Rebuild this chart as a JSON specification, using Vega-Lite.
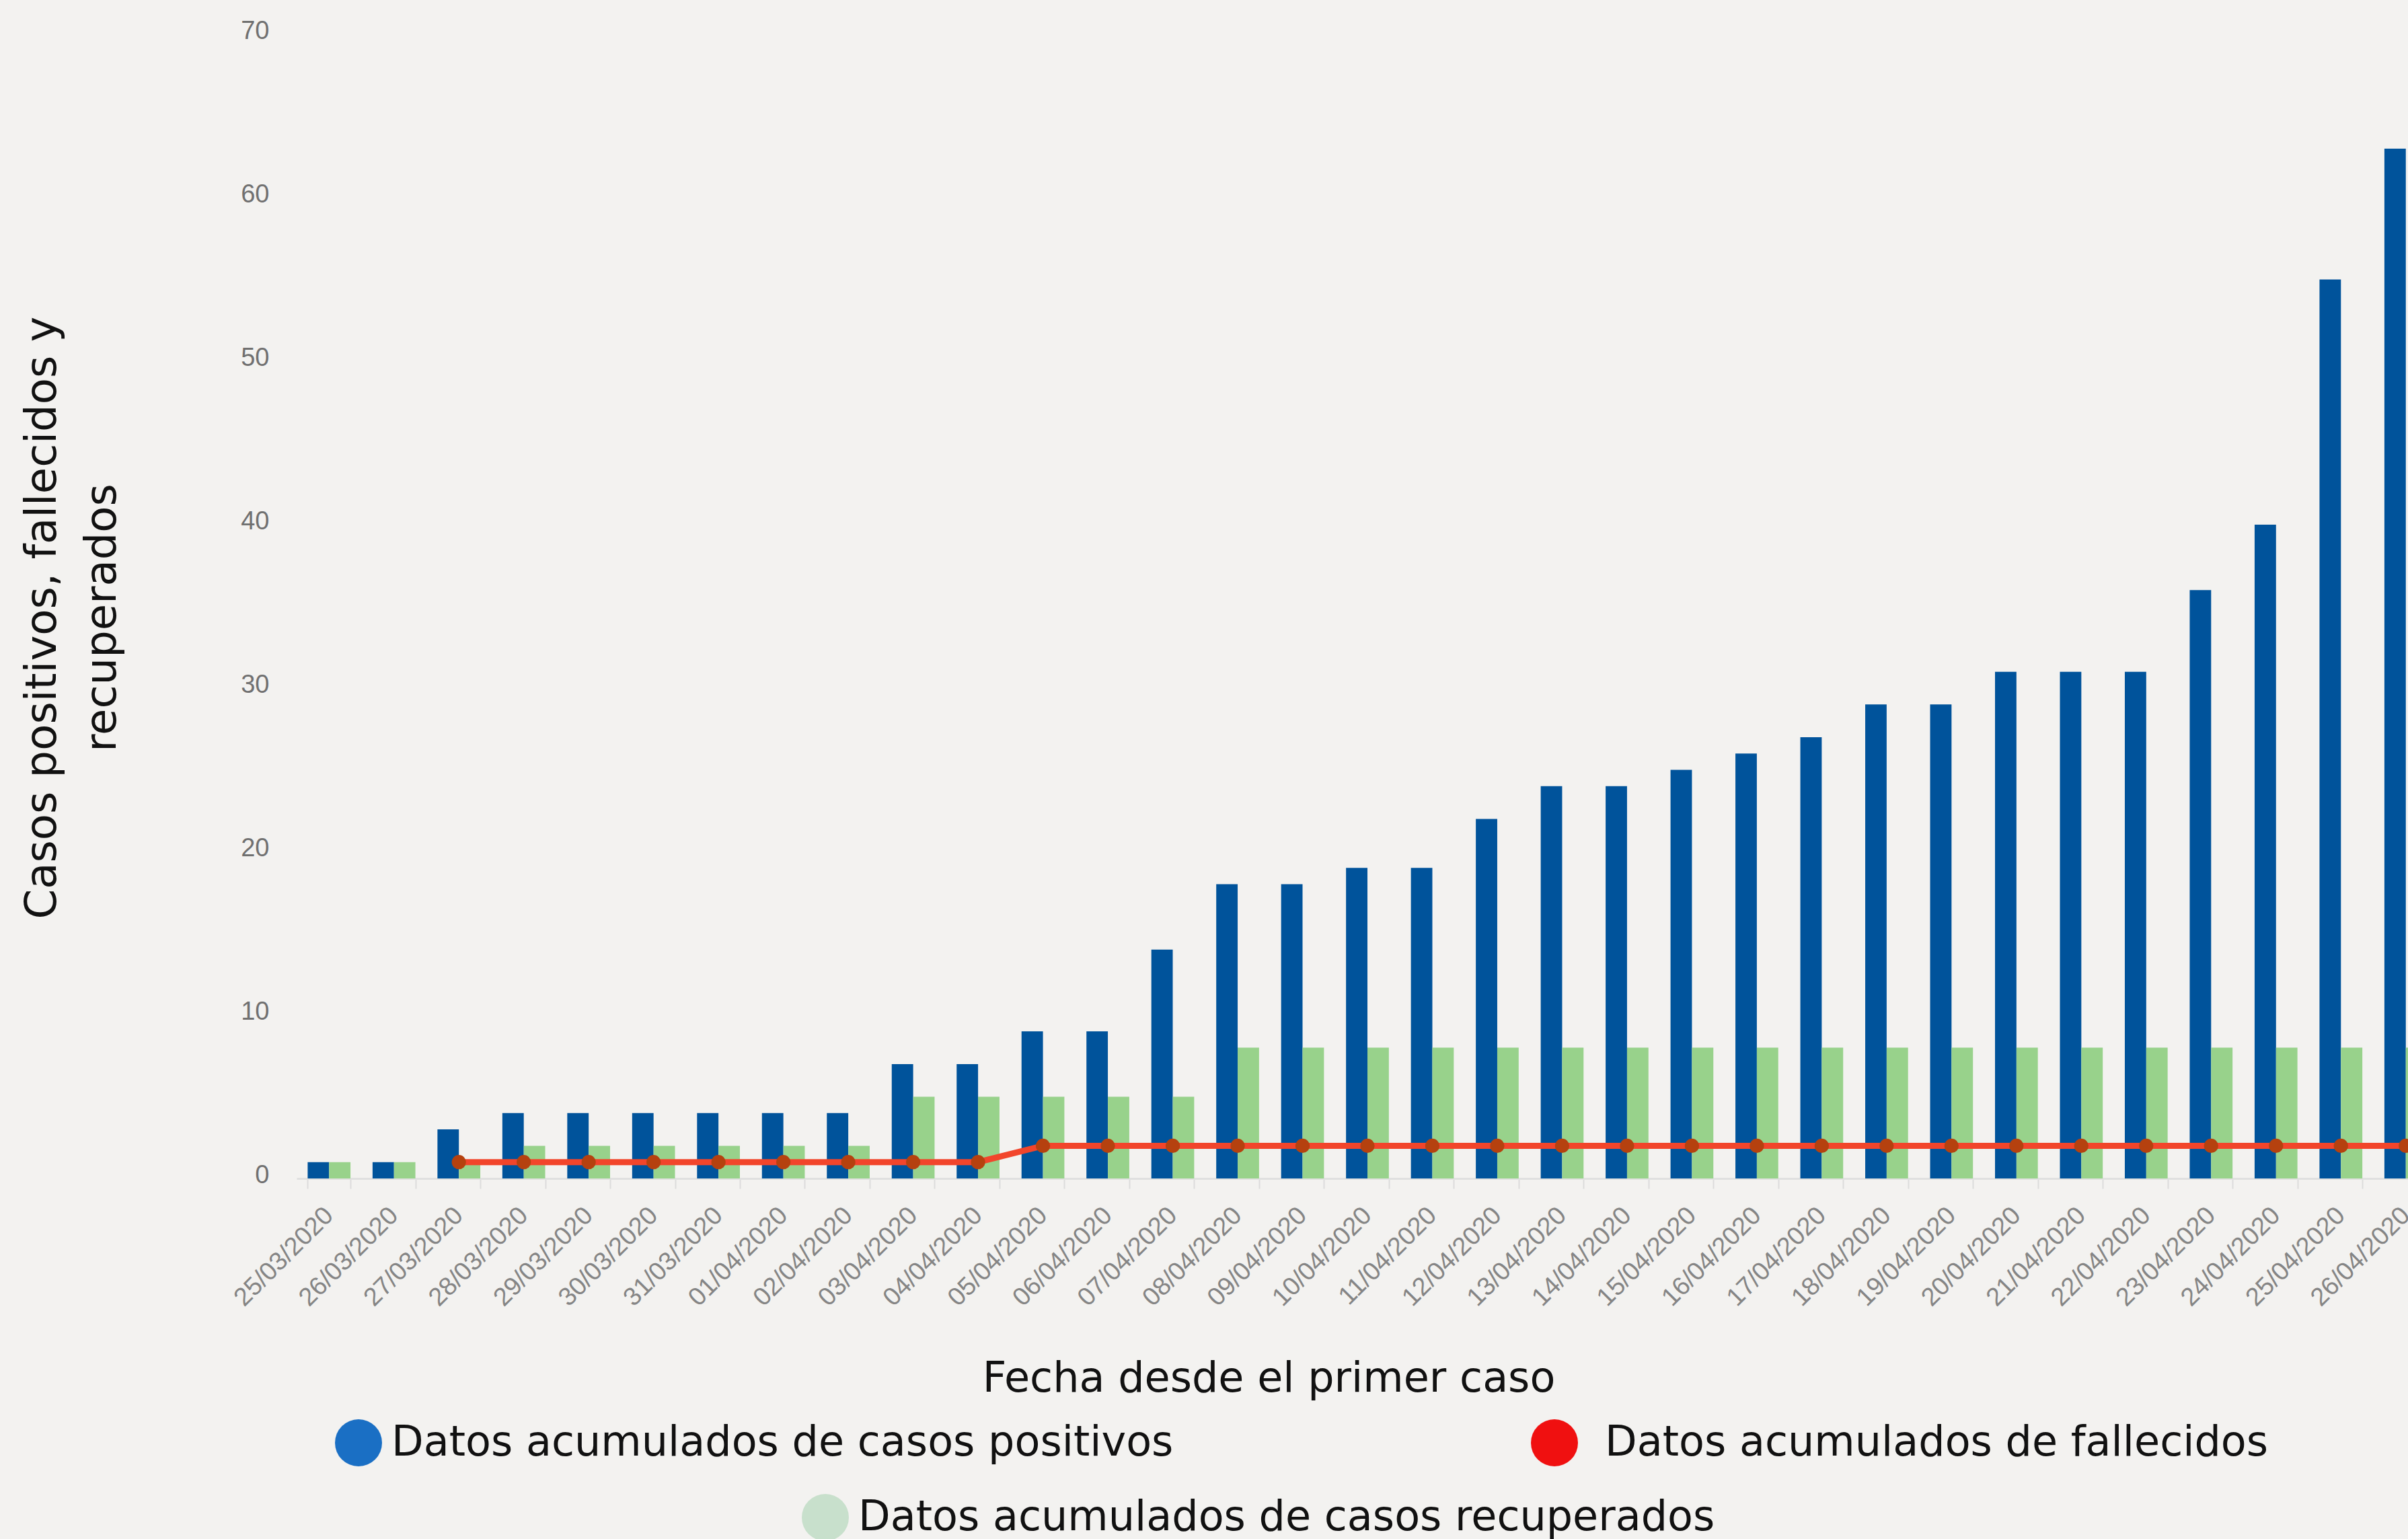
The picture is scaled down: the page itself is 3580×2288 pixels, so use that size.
{
  "$schema": "https://vega.github.io/schema/vega-lite/v6.json",
  "autosize": {"type": "none"},
  "padding": {"left": 441, "top": 51, "right": 0, "bottom": 536},
  "width": 3184,
  "height": 1701,
  "background": "#f3f2f0",
  "config": {"view": {"stroke": null}, "font": "DejaVu Sans"},
  "datasets": {
    "casos": [
      {"fecha": "25/03/2020", "serie": "Datos acumulados de casos positivos", "valor": 1},
      {"fecha": "26/03/2020", "serie": "Datos acumulados de casos positivos", "valor": 1},
      {"fecha": "27/03/2020", "serie": "Datos acumulados de casos positivos", "valor": 3},
      {"fecha": "28/03/2020", "serie": "Datos acumulados de casos positivos", "valor": 4},
      {"fecha": "29/03/2020", "serie": "Datos acumulados de casos positivos", "valor": 4},
      {"fecha": "30/03/2020", "serie": "Datos acumulados de casos positivos", "valor": 4},
      {"fecha": "31/03/2020", "serie": "Datos acumulados de casos positivos", "valor": 4},
      {"fecha": "01/04/2020", "serie": "Datos acumulados de casos positivos", "valor": 4},
      {"fecha": "02/04/2020", "serie": "Datos acumulados de casos positivos", "valor": 4},
      {"fecha": "03/04/2020", "serie": "Datos acumulados de casos positivos", "valor": 7},
      {"fecha": "04/04/2020", "serie": "Datos acumulados de casos positivos", "valor": 7},
      {"fecha": "05/04/2020", "serie": "Datos acumulados de casos positivos", "valor": 9},
      {"fecha": "06/04/2020", "serie": "Datos acumulados de casos positivos", "valor": 9},
      {"fecha": "07/04/2020", "serie": "Datos acumulados de casos positivos", "valor": 14},
      {"fecha": "08/04/2020", "serie": "Datos acumulados de casos positivos", "valor": 18},
      {"fecha": "09/04/2020", "serie": "Datos acumulados de casos positivos", "valor": 18},
      {"fecha": "10/04/2020", "serie": "Datos acumulados de casos positivos", "valor": 19},
      {"fecha": "11/04/2020", "serie": "Datos acumulados de casos positivos", "valor": 19},
      {"fecha": "12/04/2020", "serie": "Datos acumulados de casos positivos", "valor": 22},
      {"fecha": "13/04/2020", "serie": "Datos acumulados de casos positivos", "valor": 24},
      {"fecha": "14/04/2020", "serie": "Datos acumulados de casos positivos", "valor": 24},
      {"fecha": "15/04/2020", "serie": "Datos acumulados de casos positivos", "valor": 25},
      {"fecha": "16/04/2020", "serie": "Datos acumulados de casos positivos", "valor": 26},
      {"fecha": "17/04/2020", "serie": "Datos acumulados de casos positivos", "valor": 27},
      {"fecha": "18/04/2020", "serie": "Datos acumulados de casos positivos", "valor": 29},
      {"fecha": "19/04/2020", "serie": "Datos acumulados de casos positivos", "valor": 29},
      {"fecha": "20/04/2020", "serie": "Datos acumulados de casos positivos", "valor": 31},
      {"fecha": "21/04/2020", "serie": "Datos acumulados de casos positivos", "valor": 31},
      {"fecha": "22/04/2020", "serie": "Datos acumulados de casos positivos", "valor": 31},
      {"fecha": "23/04/2020", "serie": "Datos acumulados de casos positivos", "valor": 36},
      {"fecha": "24/04/2020", "serie": "Datos acumulados de casos positivos", "valor": 40},
      {"fecha": "25/04/2020", "serie": "Datos acumulados de casos positivos", "valor": 55},
      {"fecha": "26/04/2020", "serie": "Datos acumulados de casos positivos", "valor": 63},
      {"fecha": "25/03/2020", "serie": "Datos acumulados de casos recuperados", "valor": 1},
      {"fecha": "26/03/2020", "serie": "Datos acumulados de casos recuperados", "valor": 1},
      {"fecha": "27/03/2020", "serie": "Datos acumulados de casos recuperados", "valor": 1},
      {"fecha": "28/03/2020", "serie": "Datos acumulados de casos recuperados", "valor": 2},
      {"fecha": "29/03/2020", "serie": "Datos acumulados de casos recuperados", "valor": 2},
      {"fecha": "30/03/2020", "serie": "Datos acumulados de casos recuperados", "valor": 2},
      {"fecha": "31/03/2020", "serie": "Datos acumulados de casos recuperados", "valor": 2},
      {"fecha": "01/04/2020", "serie": "Datos acumulados de casos recuperados", "valor": 2},
      {"fecha": "02/04/2020", "serie": "Datos acumulados de casos recuperados", "valor": 2},
      {"fecha": "03/04/2020", "serie": "Datos acumulados de casos recuperados", "valor": 5},
      {"fecha": "04/04/2020", "serie": "Datos acumulados de casos recuperados", "valor": 5},
      {"fecha": "05/04/2020", "serie": "Datos acumulados de casos recuperados", "valor": 5},
      {"fecha": "06/04/2020", "serie": "Datos acumulados de casos recuperados", "valor": 5},
      {"fecha": "07/04/2020", "serie": "Datos acumulados de casos recuperados", "valor": 5},
      {"fecha": "08/04/2020", "serie": "Datos acumulados de casos recuperados", "valor": 8},
      {"fecha": "09/04/2020", "serie": "Datos acumulados de casos recuperados", "valor": 8},
      {"fecha": "10/04/2020", "serie": "Datos acumulados de casos recuperados", "valor": 8},
      {"fecha": "11/04/2020", "serie": "Datos acumulados de casos recuperados", "valor": 8},
      {"fecha": "12/04/2020", "serie": "Datos acumulados de casos recuperados", "valor": 8},
      {"fecha": "13/04/2020", "serie": "Datos acumulados de casos recuperados", "valor": 8},
      {"fecha": "14/04/2020", "serie": "Datos acumulados de casos recuperados", "valor": 8},
      {"fecha": "15/04/2020", "serie": "Datos acumulados de casos recuperados", "valor": 8},
      {"fecha": "16/04/2020", "serie": "Datos acumulados de casos recuperados", "valor": 8},
      {"fecha": "17/04/2020", "serie": "Datos acumulados de casos recuperados", "valor": 8},
      {"fecha": "18/04/2020", "serie": "Datos acumulados de casos recuperados", "valor": 8},
      {"fecha": "19/04/2020", "serie": "Datos acumulados de casos recuperados", "valor": 8},
      {"fecha": "20/04/2020", "serie": "Datos acumulados de casos recuperados", "valor": 8},
      {"fecha": "21/04/2020", "serie": "Datos acumulados de casos recuperados", "valor": 8},
      {"fecha": "22/04/2020", "serie": "Datos acumulados de casos recuperados", "valor": 8},
      {"fecha": "23/04/2020", "serie": "Datos acumulados de casos recuperados", "valor": 8},
      {"fecha": "24/04/2020", "serie": "Datos acumulados de casos recuperados", "valor": 8},
      {"fecha": "25/04/2020", "serie": "Datos acumulados de casos recuperados", "valor": 8},
      {"fecha": "26/04/2020", "serie": "Datos acumulados de casos recuperados", "valor": 8},
      {"fecha": "27/03/2020", "serie": "Datos acumulados  de fallecidos", "valor": 1},
      {"fecha": "28/03/2020", "serie": "Datos acumulados  de fallecidos", "valor": 1},
      {"fecha": "29/03/2020", "serie": "Datos acumulados  de fallecidos", "valor": 1},
      {"fecha": "30/03/2020", "serie": "Datos acumulados  de fallecidos", "valor": 1},
      {"fecha": "31/03/2020", "serie": "Datos acumulados  de fallecidos", "valor": 1},
      {"fecha": "01/04/2020", "serie": "Datos acumulados  de fallecidos", "valor": 1},
      {"fecha": "02/04/2020", "serie": "Datos acumulados  de fallecidos", "valor": 1},
      {"fecha": "03/04/2020", "serie": "Datos acumulados  de fallecidos", "valor": 1},
      {"fecha": "04/04/2020", "serie": "Datos acumulados  de fallecidos", "valor": 1},
      {"fecha": "05/04/2020", "serie": "Datos acumulados  de fallecidos", "valor": 2},
      {"fecha": "06/04/2020", "serie": "Datos acumulados  de fallecidos", "valor": 2},
      {"fecha": "07/04/2020", "serie": "Datos acumulados  de fallecidos", "valor": 2},
      {"fecha": "08/04/2020", "serie": "Datos acumulados  de fallecidos", "valor": 2},
      {"fecha": "09/04/2020", "serie": "Datos acumulados  de fallecidos", "valor": 2},
      {"fecha": "10/04/2020", "serie": "Datos acumulados  de fallecidos", "valor": 2},
      {"fecha": "11/04/2020", "serie": "Datos acumulados  de fallecidos", "valor": 2},
      {"fecha": "12/04/2020", "serie": "Datos acumulados  de fallecidos", "valor": 2},
      {"fecha": "13/04/2020", "serie": "Datos acumulados  de fallecidos", "valor": 2},
      {"fecha": "14/04/2020", "serie": "Datos acumulados  de fallecidos", "valor": 2},
      {"fecha": "15/04/2020", "serie": "Datos acumulados  de fallecidos", "valor": 2},
      {"fecha": "16/04/2020", "serie": "Datos acumulados  de fallecidos", "valor": 2},
      {"fecha": "17/04/2020", "serie": "Datos acumulados  de fallecidos", "valor": 2},
      {"fecha": "18/04/2020", "serie": "Datos acumulados  de fallecidos", "valor": 2},
      {"fecha": "19/04/2020", "serie": "Datos acumulados  de fallecidos", "valor": 2},
      {"fecha": "20/04/2020", "serie": "Datos acumulados  de fallecidos", "valor": 2},
      {"fecha": "21/04/2020", "serie": "Datos acumulados  de fallecidos", "valor": 2},
      {"fecha": "22/04/2020", "serie": "Datos acumulados  de fallecidos", "valor": 2},
      {"fecha": "23/04/2020", "serie": "Datos acumulados  de fallecidos", "valor": 2},
      {"fecha": "24/04/2020", "serie": "Datos acumulados  de fallecidos", "valor": 2},
      {"fecha": "25/04/2020", "serie": "Datos acumulados  de fallecidos", "valor": 2},
      {"fecha": "26/04/2020", "serie": "Datos acumulados  de fallecidos", "valor": 2}
    ]
  },
  "data": {"name": "casos"},
  "encoding": {
    "x": {
      "field": "fecha", "type": "ordinal", "sort": null,
      "scale": {"paddingInner": 0.34, "paddingOuter": 0.17},
      "axis": {
        "title": "Fecha desde el primer caso",
        "titleFont": "DejaVu Sans", "titleFontSize": 62, "titleFontWeight": "normal", "titleColor": "#111111",
        "titleX": 1445, "titleY": 316, "titleAlign": "center", "titleBaseline": "alphabetic",
        "labelAngle": -45, "labelAlign": "right", "labelBaseline": "middle",
        "labelFont": "Liberation Sans", "labelFontSize": 38, "labelColor": "#858585",
        "labelPadding": 34, "labelOverlap": false, "labelBound": false, "labelLimit": 600,
        "tickBand": "extent", "tickSize": 15, "tickColor": "#dcdcdc", "tickWidth": 2,
        "domainColor": "#e0e0e0", "domainWidth": 3, "grid": false
      }
    },
    "y": {
      "field": "valor", "type": "quantitative",
      "scale": {"domain": [0, 70], "nice": false},
      "axis": {
        "title": ["Casos positivos, fallecidos y", "recuperados"],
        "titleFont": "DejaVu Sans", "titleFontSize": 64, "titleFontWeight": "normal", "titleColor": "#111111",
        "titleX": -359, "titleY": 867, "titleAngle": -90, "titleAlign": "center", "titleBaseline": "alphabetic", "titleLineHeight": 89,
        "values": [0, 10, 20, 30, 40, 50, 60, 70],
        "labelFont": "Liberation Sans", "labelFontSize": 38, "labelColor": "#707070",
        "labelPadding": 41, "labelOffset": -5,
        "ticks": false, "domain": false, "grid": false
      }
    }
  },
  "layer": [
    {
      "transform": [{"filter": "datum.serie === 'Datos acumulados de casos positivos'"}],
      "mark": {"type": "bar", "color": "#00539b"},
      "encoding": {
        "xOffset": {"field": "serie", "type": "nominal", "scale": {"domain": ["Datos acumulados de casos positivos", "Datos acumulados de casos recuperados"], "paddingInner": 0}}
      }
    },
    {
      "transform": [{"filter": "datum.serie === 'Datos acumulados de casos recuperados'"}],
      "mark": {"type": "bar", "color": "#98d28b"},
      "encoding": {
        "xOffset": {"field": "serie", "type": "nominal", "scale": {"domain": ["Datos acumulados de casos positivos", "Datos acumulados de casos recuperados"], "paddingInner": 0}}
      }
    },
    {
      "transform": [{"filter": "datum.serie === 'Datos acumulados  de fallecidos'"}],
      "mark": {"type": "line", "color": "#f2452b", "strokeWidth": 9},
      "encoding": {}
    },
    {
      "transform": [{"filter": "datum.serie === 'Datos acumulados  de fallecidos'"}],
      "mark": {"type": "point", "filled": true, "size": 450, "opacity": 1, "color": "#b5410f"},
      "encoding": {}
    },
    {
      "transform": [{"filter": "false"}],
      "mark": {"type": "point", "filled": true, "shape": "circle", "opacity": 1},
      "encoding": {
        "color": {
          "field": "serie", "type": "nominal",
          "scale": {"domain": ["Datos acumulados de casos positivos"], "range": ["#1a6fc4"]},
          "legend": {
            "orient": "none", "legendX": 57, "legendY": 2059, "title": null, "padding": 0,
            "symbolType": "circle", "symbolSize": 4900, "symbolStrokeWidth": 0, "symbolOpacity": 1,
            "labelFont": "DejaVu Sans", "labelFontSize": 62, "labelColor": "#111111", "labelOffset": 14, "labelLimit": 2000
          }
        }
      }
    },
    {
      "transform": [{"filter": "false"}],
      "mark": {"type": "point", "filled": true, "shape": "circle", "opacity": 1},
      "encoding": {
        "color": {
          "field": "serie", "type": "nominal",
          "scale": {"domain": ["Datos acumulados  de fallecidos"], "range": ["#f01010"]},
          "legend": {
            "orient": "none", "legendX": 1835, "legendY": 2059, "title": null, "padding": 0,
            "symbolType": "circle", "symbolSize": 4900, "symbolStrokeWidth": 0, "symbolOpacity": 1,
            "labelFont": "DejaVu Sans", "labelFontSize": 62, "labelColor": "#111111", "labelOffset": 40, "labelLimit": 2000
          }
        }
      }
    },
    {
      "transform": [{"filter": "false"}],
      "mark": {"type": "point", "filled": true, "shape": "circle", "opacity": 1},
      "encoding": {
        "color": {
          "field": "serie", "type": "nominal",
          "scale": {"domain": ["Datos acumulados de casos recuperados"], "range": ["#c8e0cc"]},
          "legend": {
            "orient": "none", "legendX": 751, "legendY": 2170, "title": null, "padding": 0,
            "symbolType": "circle", "symbolSize": 4900, "symbolStrokeWidth": 0, "symbolOpacity": 1,
            "labelFont": "DejaVu Sans", "labelFontSize": 62, "labelColor": "#111111", "labelOffset": 14, "labelLimit": 2000
          }
        }
      }
    }
  ],
  "resolve": {"scale": {"color": "independent"}, "legend": {"color": "independent"}}
}
